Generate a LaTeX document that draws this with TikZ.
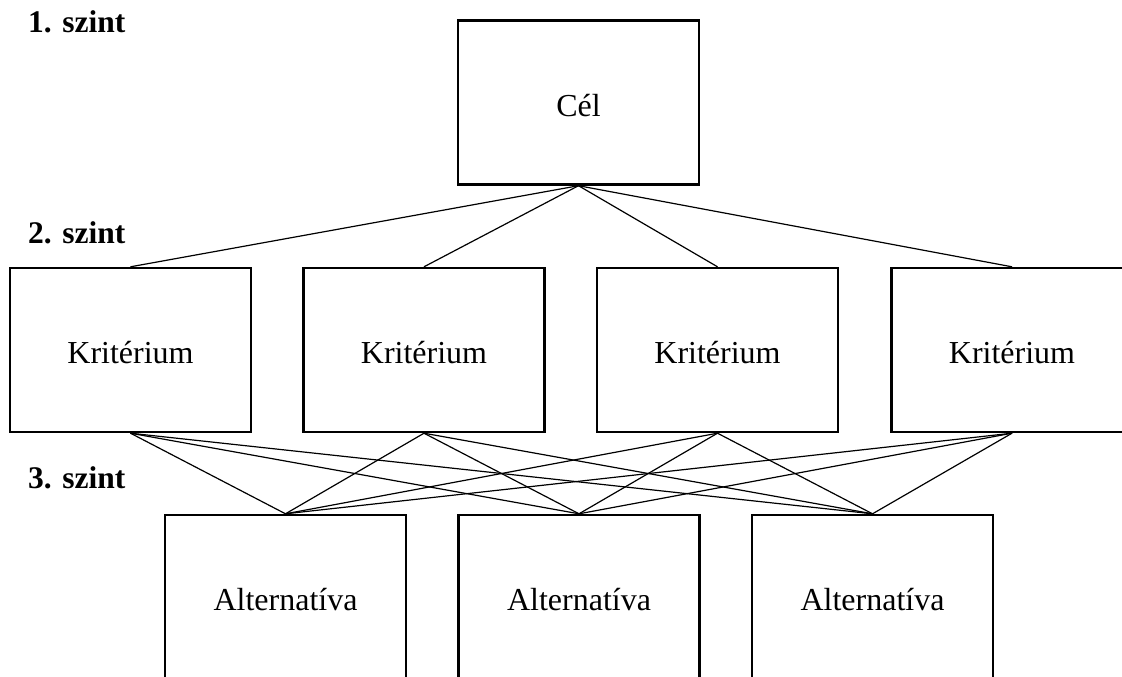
\documentclass[tikz,border=0pt]{standalone}
\usepackage{fontspec}
\setmainfont{Liberation Serif}
\begin{document}
\begin{tikzpicture}[x=1pt,y=1pt,
  box/.style={draw, line width=2.4pt, minimum width=241pt, minimum height=164pt,
    inner sep=0pt, text height=27pt, text depth=0pt,
    font=\fontsize{32}{38}\selectfont},
  link/.style={line width=1.2pt},
  level/.style={anchor=base west, inner sep=0pt, font=\fontsize{31.5}{38}\selectfont\bfseries}]
\useasboundingbox (0,0) rectangle (1122,-677);
\clip (0,0) rectangle (1122,-677);

% level labels
\node[level] (l1) at (28,-33) {1. szint};
\node[level] (l2) at (28,-243) {2. szint};
\node[level] (l3) at (28,-488) {3. szint};

% goal
\node[box] (goal) at (578.5,-102.5) {Cél};

% criteria
\node[box] (k1) at (130.5,-350) {Kritérium};
\node[box] (k2) at (424,-350) {Kritérium};
\node[box] (k3) at (717.5,-350) {Kritérium};
\node[box] (k4) at (1012,-350) {Kritérium};

% alternatives
\node[box] (a1) at (285.5,-597) {Alternatíva};
\node[box] (a2) at (579,-597) {Alternatíva};
\node[box] (a3) at (872.5,-597) {Alternatíva};

% goal to criteria
\foreach \k in {k1,k2,k3,k4}
  \draw[link] (goal.south) -- (\k.north);

% criteria to alternatives
\foreach \k in {k1,k2,k3,k4}
  \foreach \a in {a1,a2,a3}
    \draw[link] (\k.south) -- (\a.north);
\end{tikzpicture}
\end{document}
